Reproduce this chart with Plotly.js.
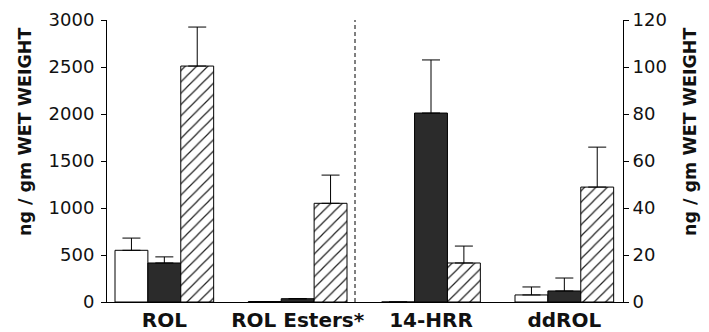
<!DOCTYPE html>
<html><head><meta charset="utf-8">
<script src="https://cdn.plot.ly/plotly-3.0.1.min.js"></script>
<style>html,body{margin:0;padding:0;background:#fff}</style>
</head><body><div id="chart" style="width:709px;height:332px"></div>
<script>
const categories = ['ROL', 'ROL Esters*', '14-HRR', 'ddROL'];
const leftCats = ['ROL', 'ROL Esters*'];
const rightCats = ['14-HRR', 'ddROL'];
// left axis (ng/gm, 0-3000)
const whiteLeft = [550, 5];
const whiteLeftErr = [130, 0];
const darkLeft = [415, 35];
const darkLeftErr = [65, 0];
const hatchLeft = [2510, 1050];
const hatchLeftErr = [415, 300];
// right axis (ng/gm, 0-120)
const whiteRight = [0, 3.0];
const whiteRightErr = [0, 3.4];
const darkRight = [80.4, 4.7];
const darkRightErr = [22.6, 5.5];
const hatchRight = [16.6, 48.9];
const hatchRightErr = [7.2, 17];
const leftTicks = [0, 500, 1000, 1500, 2000, 2500, 3000];
const rightTicks = [0, 20, 40, 60, 80, 100, 120];

const line = {color: 'black', width: 1};
const whiteM = {color: 'white', line: line};
const darkM = {color: '#2b2b2b', line: line};
const hatchM = {color: 'white', line: line,
  pattern: {shape: '/', fgcolor: '#222', bgcolor: 'white', size: 8, solidity: 0.15}};
function err(a) {
  return {type: 'data', symmetric: false, array: a, arrayminus: a.map(() => 0),
          color: 'black', thickness: 1, width: 9, visible: true};
}
function bar(x, y, e, m, g, ax) {
  return {type: 'bar', x: x, y: y, error_y: err(e), marker: m, offsetgroup: g,
          yaxis: ax, showlegend: false, hoverinfo: 'skip'};
}
const data = [
  bar(leftCats, whiteLeft, whiteLeftErr, whiteM, 'a', 'y'),
  bar(leftCats, darkLeft, darkLeftErr, darkM, 'b', 'y'),
  bar(leftCats, hatchLeft, hatchLeftErr, hatchM, 'c', 'y'),
  bar(rightCats, whiteRight, whiteRightErr, whiteM, 'a', 'y2'),
  bar(rightCats, darkRight, darkRightErr, darkM, 'b', 'y2'),
  bar(rightCats, hatchRight, hatchRightErr, hatchM, 'c', 'y2')
];
const tickFont = {family: 'DejaVu Sans', size: 18, color: '#111'};
const titleFont = {family: 'DejaVu Sans', size: 17.5, color: '#111', weight: 'bold'};
const layout = {
  width: 709, height: 332,
  margin: {l: 107, r: 86, t: 20, b: 30},
  paper_bgcolor: 'white', plot_bgcolor: 'white',
  barmode: 'group', bargap: 0.26, bargroupgap: 0,
  xaxis: {type: 'category', categoryorder: 'array', categoryarray: categories,
    range: [-0.43, 3.44], showline: true, linecolor: 'black', linewidth: 1,
    ticks: '', showgrid: false, zeroline: false,
    tickfont: {family: 'DejaVu Sans', size: 20, color: '#111', weight: 'bold'}},
  yaxis: {range: [0, 3000], tickvals: leftTicks, showline: true, linecolor: 'black',
    linewidth: 1, ticks: 'outside', ticklen: 5, tickcolor: 'black', showgrid: false,
    zeroline: false, tickfont: tickFont, ticklabelstandoff: 3},
  yaxis2: {range: [0, 120], tickvals: rightTicks, overlaying: 'y', side: 'right',
    showline: true, linecolor: 'black', linewidth: 1, ticks: 'outside', ticklen: 5,
    tickcolor: 'black', showgrid: false, zeroline: false, tickfont: tickFont},
  shapes: [{type: 'line', xref: 'x', yref: 'paper', x0: 1.43, x1: 1.43, y0: 0, y1: 1,
    line: {color: 'black', width: 1, dash: '4px,3px'}}],
  annotations: [
    {text: 'ng / gm WET WEIGHT', xref: 'paper', yref: 'paper', x: (25 - 107) / 516,
     y: (302 - 132) / 282, textangle: -90, showarrow: false, font: titleFont,
     xanchor: 'center', yanchor: 'middle'},
    {text: 'ng / gm WET WEIGHT', xref: 'paper', yref: 'paper', x: (690 - 107) / 516,
     y: (302 - 132) / 282, textangle: -90, showarrow: false, font: titleFont,
     xanchor: 'center', yanchor: 'middle'}
  ]
};
Plotly.newPlot('chart', data, layout, {displayModeBar: false, staticPlot: true});
</script></body></html>
